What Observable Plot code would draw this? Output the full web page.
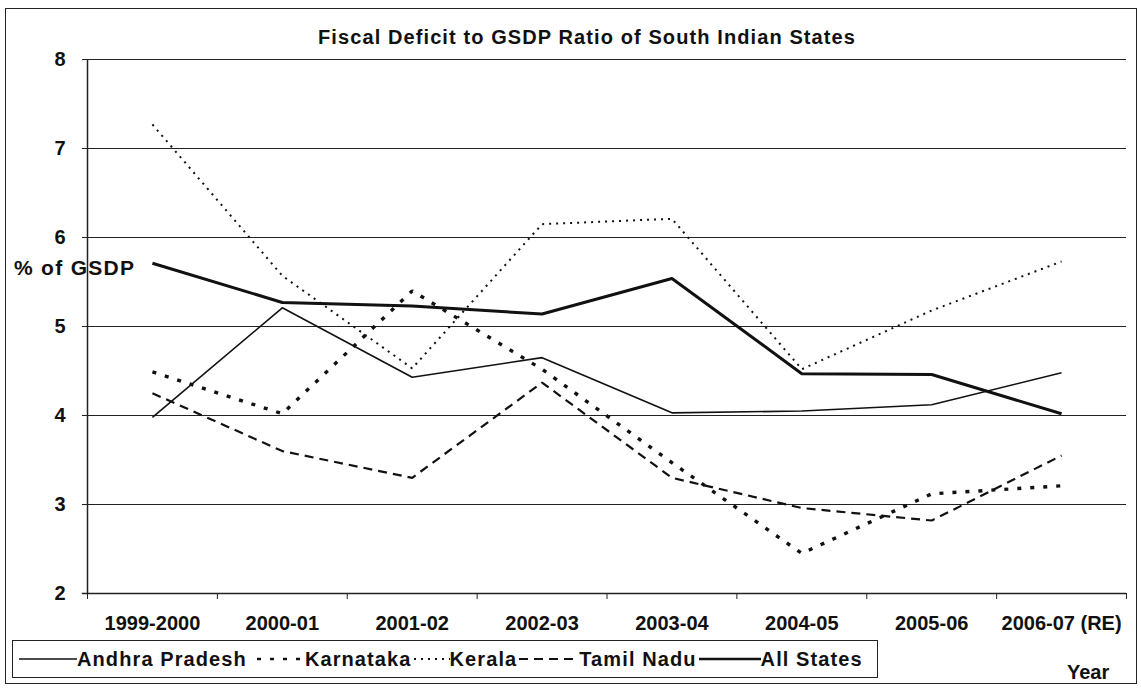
<!DOCTYPE html>
<html>
<head>
<meta charset="utf-8">
<script src="https://cdn.jsdelivr.net/npm/d3@7"></script>
<script src="https://cdn.jsdelivr.net/npm/@observablehq/plot@0.6"></script>
<style>
  html, body { margin: 0; padding: 0; background: #fff; }
  #wrap { position: relative; width: 1141px; height: 689px; overflow: hidden; font-family: "Liberation Sans", Arial, sans-serif; color: #111; }
  #frame { position: absolute; left: 5px; top: 8px; width: 1130px; height: 674px; border: 1.5px solid #222; }
  #chart { position: absolute; left: 0; top: 0; }
  .lbl { position: absolute; font-weight: bold; white-space: nowrap; }
  #legend { position: absolute; left: 12px; top: 640px; width: 864px; height: 36px; border: 1.3px solid #222; display: flex; align-items: center; font-weight: bold; font-size: 20px; letter-spacing: 1.1px; white-space: nowrap; overflow: hidden; }
  #legend .item { display: flex; align-items: center; }
  #legend svg { display: block; }
</style>
</head>
<body>
<div id="wrap">
  <div id="frame"></div>
  <div id="chart"></div>
  <div class="lbl" id="title" style="left:318px; top:26px; font-size:20px; letter-spacing:1.1px;">Fiscal Deficit to GSDP Ratio of South Indian States</div>
  <div class="lbl" style="left:14px; top:256px; font-size:21px; letter-spacing:1.3px;">% of GSDP</div>
  <div class="lbl" style="left:1067px; top:661px; font-size:20px;">Year</div>
  <div id="legend"></div>
</div>
<script>
const years = ["1999-2000", "2000-01", "2001-02", "2002-03", "2003-04", "2004-05", "2005-06", "2006-07 (RE)"];
const andhraPradesh = [3.98, 5.21, 4.43, 4.65, 4.03, 4.05, 4.12, 4.48];
const karnataka     = [4.49, 4.02, 5.40, 4.52, 3.47, 2.45, 3.12, 3.21];
const kerala        = [7.27, 5.57, 4.53, 6.15, 6.21, 4.52, 5.18, 5.73];
const tamilNadu     = [4.25, 3.60, 3.30, 4.37, 3.30, 2.96, 2.82, 3.55];
const allStates     = [5.71, 5.27, 5.23, 5.14, 5.54, 4.47, 4.46, 4.02];
const yTicks = [2, 3, 4, 5, 6, 7, 8];
const seriesNames = ["Andhra Pradesh", "Karnataka", "Kerala", "Tamil Nadu", "All States"];

const seriesValues = [andhraPradesh, karnataka, kerala, tamilNadu, allStates];
const styles = {
  "Andhra Pradesh": {strokeWidth: 1.6, strokeDasharray: null},
  "Karnataka": {strokeWidth: 3.4, strokeDasharray: "4,9"},
  "Kerala": {strokeWidth: 2, strokeDasharray: "2,5"},
  "Tamil Nadu": {strokeWidth: 2.2, strokeDasharray: "9,6"},
  "All States": {strokeWidth: 3, strokeDasharray: null}
};

const rows = [];
seriesNames.forEach((name, s) => {
  seriesValues[s].forEach((v, i) => rows.push({series: name, i: i + 0.5, year: years[i], value: v}));
});

const lineMarks = seriesNames.map(name => Plot.line(rows.filter(r => r.series === name), {
  x: "i", y: "value", stroke: "#111",
  strokeWidth: styles[name].strokeWidth,
  strokeDasharray: styles[name].strokeDasharray,
  strokeLinecap: "butt",
  strokeLinejoin: "miter"
}));

const chart = Plot.plot({
  width: 1141,
  height: 689,
  marginLeft: 87,
  marginRight: 15,
  marginTop: 59,
  marginBottom: 96,
  style: {fontFamily: "'Liberation Sans', Arial, sans-serif", color: "#111", background: "transparent"},
  x: {domain: [0, years.length], axis: null},
  y: {domain: [2, 8], axis: null},
  marks: [
    Plot.ruleY(yTicks.filter(t => t > 2), {stroke: "#222", strokeWidth: 1.2}),
    Plot.ruleY([2], {stroke: "#222", strokeWidth: 1.5, x1: -0.04, x2: years.length}),
    Plot.ruleX([0], {stroke: "#222", strokeWidth: 1.5, y1: 2, y2: 8}),
    Plot.axisY({ticks: yTicks, label: null, tickSize: 5, tickPadding: 17, tickFormat: d3.format("d"), fontSize: 20, fontWeight: "bold", stroke: "#222", fill: "#111"}),
    Plot.axisX({ticks: d3.range(0, years.length + 1), label: null, tickSize: 6, tickFormat: () => "", stroke: "#222"}),
    Plot.axisX({ticks: d3.range(0.5, years.length), label: null, tickSize: 0, tickPadding: 22, tickFormat: d => years[d - 0.5], fontSize: 20, fontWeight: "bold", fill: "#111", style: {letterSpacing: "0.9px"}}),
    ...lineMarks
  ]
});
document.getElementById("chart").appendChild(chart);

// Legend
const legend = document.getElementById("legend");
const sampleWidths = {"Andhra Pradesh": 60, "Karnataka": 50, "Kerala": 38, "Tamil Nadu": 62, "All States": 64};
seriesNames.forEach((name, k) => {
  const item = document.createElement("div");
  item.className = "item";
  const w = sampleWidths[name];
  const st = styles[name];
  const ns = "http://www.w3.org/2000/svg";
  const svg = document.createElementNS(ns, "svg");
  svg.setAttribute("width", w);
  svg.setAttribute("height", 12);
  const ln = document.createElementNS(ns, "line");
  ln.setAttribute("x1", 2); ln.setAttribute("x2", w);
  ln.setAttribute("y1", 6); ln.setAttribute("y2", 6);
  ln.setAttribute("stroke", "#111");
  ln.setAttribute("stroke-width", Math.min(st.strokeWidth, 2.4));
  if (st.strokeDasharray) ln.setAttribute("stroke-dasharray", st.strokeDasharray);
  svg.appendChild(ln);
  const sp = document.createElement("span");
  sp.textContent = name;
  item.appendChild(svg);
  item.appendChild(sp);
  if (k === 0) item.style.marginLeft = "4px";
  if (k === 1) item.style.marginLeft = "8px";
  legend.appendChild(item);
});
</script>
</body>
</html>
